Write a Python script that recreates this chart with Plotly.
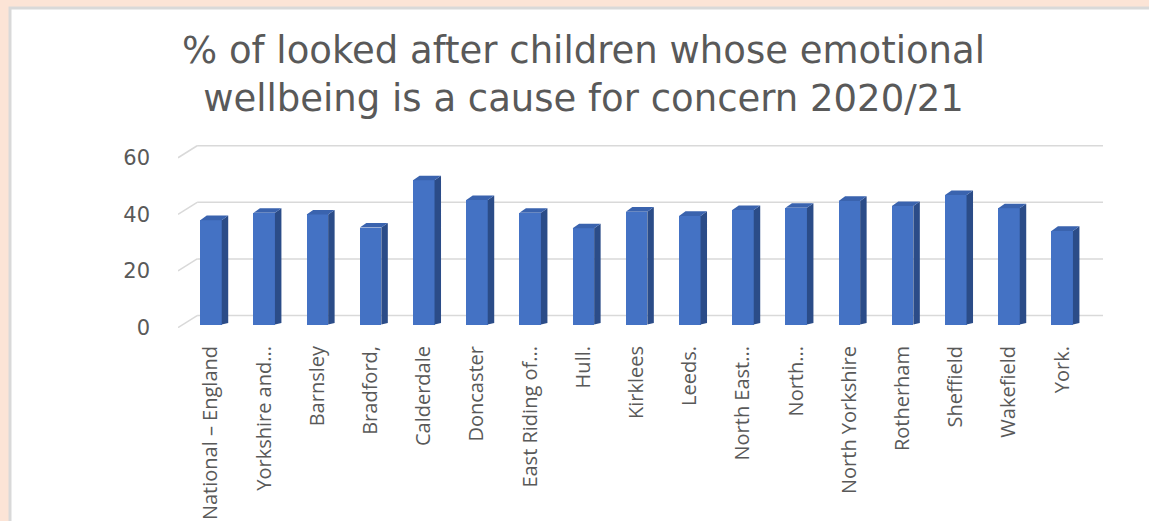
import plotly.graph_objects as go

# Local authority / region categories and their percentages
categories = [
    "National – England", "Yorkshire and...", "Barnsley", "Bradford,",
    "Calderdale", "Doncaster", "East Riding of...", "Hull.", "Kirklees",
    "Leeds.", "North East...", "North...", "North Yorkshire", "Rotherham",
    "Sheffield", "Wakefield", "York.",
]
values = [36.9, 39.5, 38.9, 34.3, 51.0, 44.0, 39.5, 34.0, 39.9,
          38.4, 40.5, 41.3, 43.7, 41.9, 45.8, 41.1, 33.1]
y_ticks = [0, 20, 40, 60]

TITLE = "% of looked after children whose emotional<br>wellbeing is a cause for concern 2020/21"

# pseudo-3D geometry (data units)
BAR_W = 0.404        # width of the front face
SIDE_DX = 0.122      # depth of each bar along x
SIDE_DY = 1.6        # depth of each bar along y
WALL_FRONT = -1.06   # front edge of floor / gridline stubs
WALL_BACK = 3.18     # back wall offset of gridlines
X_MIN, X_MAX = -0.62, 16.767
WALL_X = -0.26

FRONT = "#4472C4"
SIDE = "#2B4C88"
TOP = "#3A63AE"
GRID = "#D9D9D9"
TEXT = "#595959"

xs = list(range(len(categories)))

fig = go.Figure()
fig.add_trace(go.Bar(
    x=xs, y=values, width=BAR_W, marker=dict(color=FRONT, line=dict(width=0)),
    showlegend=False, hoverinfo="skip",
))

# side faces and top faces of each bar
sx, sy, tx, ty = [], [], [], []
for x, v in zip(xs, values):
    r = x + BAR_W / 2
    l = x - BAR_W / 2
    sx += [r, r + SIDE_DX, r + SIDE_DX, r, r, None]
    sy += [0, SIDE_DY * 0.35, v + SIDE_DY, v, 0, None]
    tx += [l, l + SIDE_DX, r + SIDE_DX, r, l, None]
    ty += [v, v + SIDE_DY, v + SIDE_DY, v, v, None]
fig.add_trace(go.Scatter(x=sx, y=sy, mode="lines", fill="toself", fillcolor=SIDE,
                         line=dict(width=0, color=SIDE), showlegend=False, hoverinfo="skip"))
fig.add_trace(go.Scatter(x=tx, y=ty, mode="lines", fill="toself", fillcolor=TOP,
                         line=dict(width=0, color=TOP), showlegend=False, hoverinfo="skip"))

shapes = []
# peach page with white chart panel
shapes.append(dict(type="rect", xref="paper", yref="paper", layer="below",
                   x0=(10 - 178) / 925, x1=1.2, y0=-1.5, y1=1 + (142 - 8) / 185.9,
                   fillcolor="white", line=dict(color="#D9D9D9", width=3)))
# back-wall gridlines with short receding stubs on the left
for t in y_ticks:
    shapes.append(dict(type="line", xref="x", yref="y", layer="below",
                       x0=WALL_X, x1=X_MAX, y0=t + WALL_BACK, y1=t + WALL_BACK,
                       line=dict(color=GRID, width=1.5)))
    shapes.append(dict(type="line", xref="x", yref="y", layer="below",
                       x0=X_MIN, x1=WALL_X, y0=t + WALL_FRONT, y1=t + WALL_BACK,
                       line=dict(color=GRID, width=1.5)))

fig.update_layout(
    width=1149, height=521,
    margin=dict(l=178, r=46, t=142, b=193.1, autoexpand=False),
    paper_bgcolor="#FCE4D6", plot_bgcolor="rgba(0,0,0,0)",
    shapes=shapes,
    title=dict(text=TITLE, x=583.5 / 1149, xanchor="center", xref="container",
               y=1 - 63 / 521, yanchor="middle", yref="container",
               font=dict(family="DejaVu Sans", size=37, color=TEXT),
               automargin=False),
    font=dict(family="Open Sans", color=TEXT),
    bargap=0,
)
fig.update_xaxes(
    range=[X_MIN, X_MAX], tickvals=xs, ticktext=categories, tickangle=-90,
    showgrid=False, zeroline=False, showline=False, ticks="", automargin=False,
    ticklabelstandoff=13, tickfont=dict(size=20, color=TEXT, family="Open Sans"),
)
fig.update_yaxes(
    range=[-1.2, 64.5], tickvals=[t + WALL_FRONT for t in y_ticks],
    ticktext=[str(t) for t in y_ticks], automargin=False,
    showgrid=False, zeroline=False, showline=False, ticks="",
    ticklabelstandoff=27, tickfont=dict(size=21, color=TEXT, family="DejaVu Sans"),
)

fig.write_html("out.html")
